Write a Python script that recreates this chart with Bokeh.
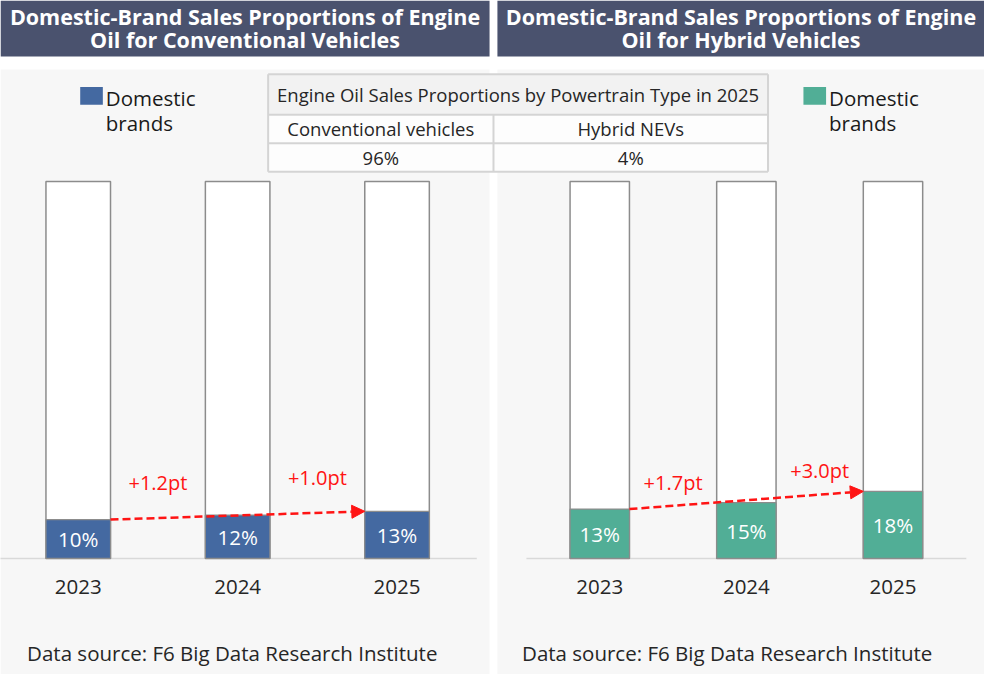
from bokeh.plotting import figure
from bokeh.models import Range1d, ColumnDataSource, Arrow, NormalHead
from bokeh.core.properties import value
from bokeh.embed import file_html
from bokeh.resources import INLINE

# ---------------- data ----------------
years = ["2023", "2024", "2025"]
conv_domestic = [10.3, 11.5, 12.5]
conv_labels = ["10%", "12%", "13%"]
conv_changes = ["+1.2pt", "+1.0pt"]
hyb_domestic = [13.1, 14.8, 17.8]
hyb_labels = ["13%", "15%", "18%"]
hyb_changes = ["+1.7pt", "+3.0pt"]
table_title = "Engine Oil Sales Proportions by Powertrain Type in 2025"
powertrains = ["Conventional vehicles", "Hybrid NEVs"]
share_2025 = ["96%", "4%"]
title_conv = ["Domestic-Brand Sales Proportions of Engine", "Oil for Conventional Vehicles"]
title_hyb = ["Domestic-Brand Sales Proportions of Engine", "Oil for Hybrid Vehicles"]
legend_label = ["Domestic", "brands"]
source_note = "Data source: F6 Big Data Research Institute"

# ---------------- style / layout ----------------
FONT = value("Open Sans")
W, H = 984, 674
S = W / 1000.0          # layout designed on a 1000 px canvas, scaled to fit


def s(v):
    if isinstance(v, (list, tuple)):
        return [x * S for x in v]
    return v * S


C_TITLE = "#4a526e"
C_BLUE = "#4469a1"
C_GREEN = "#51ae96"
C_RED = "#ff1414"
C_TEXT = "#262626"
C_PANEL = "#f7f7f7"
C_EDGE = "#8c8c8c"

p = figure(width=W, height=H, x_range=Range1d(0, W), y_range=Range1d(H, 0),
           output_backend="svg", toolbar_location=None, min_border=0)
p.axis.visible = False
p.grid.visible = False
p.outline_line_color = None
p.background_fill_color = "white"
p.border_fill_color = "white"

# percentage scale: 0% at baseline, 100% at top of the frame bars
base_px, top_px = s(567.0), s(184.0)
ppu = (base_px - top_px) / 100.0
p.extra_y_ranges = {"pct": Range1d(-(H - base_px) / ppu, base_px / ppu)}
# category index scales for each panel
c0, cs = s(79.0), s(162.0)
h0, hs = s(609.0), s(149.0)
p.extra_x_ranges = {
    "cx": Range1d(-c0 / cs, (W - c0) / cs),
    "hx": Range1d(-h0 / hs, (W - h0) / hs),
}

# panels and headers
p.quad(left=s([0, 505]), right=s([497, 1000]), top=s([70, 70]), bottom=[H, H],
       fill_color=C_PANEL, line_color=None)
p.quad(left=s([0, 505]), right=s([497, 1000]), top=[0, 0], bottom=s([57, 57]),
       fill_color=C_TITLE, line_color=None)
for cx, lines in ((248.5, title_conv), (752.5, title_hyb)):
    p.text(x=s([cx, cx]), y=s([16.5, 40]), text=lines, text_font=FONT,
           text_font_size="21.5px", text_font_style="bold", text_color="white",
           text_align="center", text_baseline="middle")

# summary table
tl, tm, tr = s(272), s(501), s(780)
ty = s([75, 116, 145, 174])
p.quad(left=[tl], right=[tr], top=[ty[0]], bottom=[ty[1]], fill_color="#f2f2f2", line_color=None)
p.quad(left=[tl], right=[tr], top=[ty[1]], bottom=[ty[3]], fill_color="#fdfdfd", line_color=None)
p.segment(x0=[tl] * 4, x1=[tr] * 4, y0=ty, y1=ty, line_color="#d4d4d4", line_width=2)
p.segment(x0=[tl, tr, tm], x1=[tl, tr, tm], y0=[ty[0], ty[0], ty[1]], y1=[ty[3]] * 3,
          line_color="#d4d4d4", line_width=2)
p.text(x=[(tl + tr) / 2], y=[(ty[0] + ty[1]) / 2], text=[table_title], text_font=FONT,
       text_font_size="18.5px", text_color=C_TEXT, text_align="center", text_baseline="middle")
colx = [(tl + tm) / 2, (tm + tr) / 2]
p.text(x=colx, y=[(ty[1] + ty[2]) / 2] * 2, text=powertrains, text_font=FONT,
       text_font_size="18.5px", text_color=C_TEXT, text_align="center", text_baseline="middle")
p.text(x=colx, y=[(ty[2] + ty[3]) / 2] * 2, text=share_2025, text_font=FONT,
       text_font_size="18.5px", text_color=C_TEXT, text_align="center", text_baseline="middle")

# legends
for lx, col in ((81, C_BLUE), (816, C_GREEN)):
    p.quad(left=[s(lx)], right=[s(lx + 23)], top=[s(88)], bottom=[s(106)],
           fill_color=col, line_color=None)
    p.text(x=s([lx + 26, lx + 26]), y=s([99.5, 124]), text=legend_label, text_font=FONT,
           text_font_size="20.5px", text_color="#1a1a1a", text_align="left",
           text_baseline="middle")

# footers
p.text(x=s([27, 530]), y=s([663, 663]), text=[source_note, source_note], text_font=FONT,
       text_font_size="20.5px", text_color=C_TEXT, text_align="left", text_baseline="middle")

BAR_W = 0.405


def panel(xname, vals, labels, changes, color, label_off):
    n = len(vals)
    idx = list(range(n))
    src = ColumnDataSource(dict(x=idx, v=vals, half=[v / 2 for v in vals],
                                lab=labels, year=years))
    # baseline
    p.segment(x0=[-0.5], x1=[n - 0.5], y0=[0], y1=[0], line_color="#d9d9d9", line_width=1.5,
              x_range_name=xname, y_range_name="pct")
    # 100% frame + domestic share
    p.vbar(x="x", width=BAR_W, bottom=0, top=100, fill_color="white", line_color=C_EDGE,
           line_width=1.5, source=src, x_range_name=xname, y_range_name="pct")
    p.vbar(x="x", width=BAR_W, bottom=0, top="v", fill_color=color, line_color=C_EDGE,
           line_width=1.2, source=src, x_range_name=xname, y_range_name="pct")
    p.text(x="x", y="half", text="lab", source=src, text_font=FONT, text_font_size="20.5px",
           text_color="white", text_align="center", text_baseline="middle",
           x_range_name=xname, y_range_name="pct")
    p.text(x="x", y=-7.6, text="year", source=src, text_font=FONT, text_font_size="20.5px",
           text_color=C_TEXT, text_align="center", text_baseline="middle",
           x_range_name=xname, y_range_name="pct")
    # trend arrow from first bar to last bar
    xs, ys = idx[0] + BAR_W / 2, vals[0]
    xe, ye = idx[-1] - BAR_W / 2, vals[-1]
    arr = Arrow(x_start=xs, y_start=ys, x_end=xe, y_end=ye,
                line_color=C_RED, line_width=2.5, line_dash="8 4",
                end=NormalHead(size=13, fill_color=C_RED, line_color=C_RED),
                x_range_name=xname, y_range_name="pct")
    p.add_layout(arr)
    mids = [i + 0.5 for i in range(n - 1)]
    ly = [ys + (ye - ys) * (m - xs) / (xe - xs) + label_off for m in mids]
    p.text(x=mids, y=ly, text=changes, text_font=FONT, text_font_size="20px",
           text_color=C_RED, text_align="center", text_baseline="middle",
           x_range_name=xname, y_range_name="pct")


panel("cx", conv_domestic, conv_labels, conv_changes, C_BLUE, 9.5)
panel("hx", hyb_domestic, hyb_labels, hyb_changes, C_GREEN, 6.3)

open("out.html", "w").write(file_html(p, INLINE))
